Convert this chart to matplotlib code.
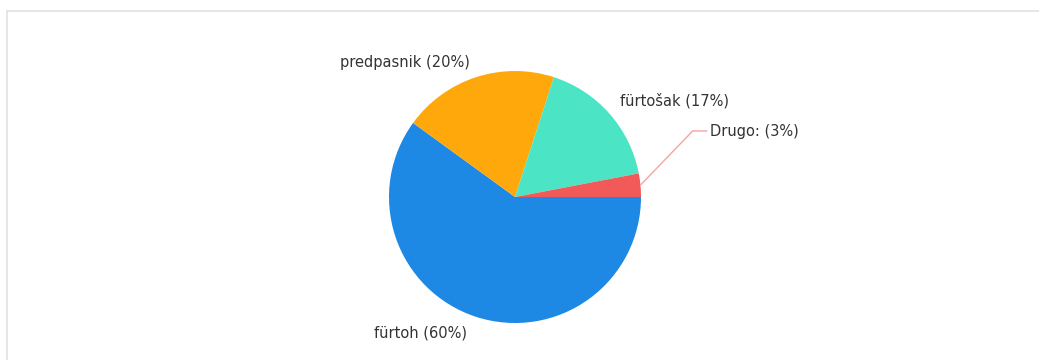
import numpy as np
import matplotlib
matplotlib.use('agg')
import matplotlib.pyplot as plt
from matplotlib.patches import Rectangle

labels = ['fürtoh', 'predpasnik', 'fürtošak', 'Drugo:']
shares = [60, 20, 17, 3]
colors = ['#1e88e5', '#ffa80c', '#4be5c5', '#f25a5a']

W, H, DPI = 1039, 360, 100
CX, CY, R = 515, 197, 126  # pie centre and radius in pixels

fig = plt.figure(figsize=(W / DPI, H / DPI), dpi=DPI)
ax = fig.add_axes([0, 0, 1, 1])

wedges, _ = ax.pie(shares, colors=colors, startangle=0, counterclock=False,
                   radius=1, center=(0, 0), wedgeprops={'linewidth': 0})
ax.set_xlim(-CX / R, (W - CX) / R)
ax.set_ylim(-(H - CY) / R, CY / R)
ax.set_aspect('auto')
ax.axis('off')

# panel border (only left and top edges fall inside the canvas)
fig.patches.append(Rectangle((7 / W, -0.1), 1.2, 1.1 - 11 / H,
                             transform=fig.transFigure, fill=False,
                             edgecolor='#e2e2e2', linewidth=1.2))

text_kw = dict(fontsize=10.5, color='#333333', va='center', family='DejaVu Sans')
label_spots = [(-0.38, -1.08, 'right'), (-0.36, 1.07, 'right'),
               (0.83, 0.76, 'left'), (1.55, 0.52, 'left')]
for lab, val, (x, y, ha) in zip(labels, shares, label_spots):
    ax.text(x, y, f'{lab} ({val}%)', ha=ha, **text_kw)

# leader line for the small slice
w = wedges[3]
mid = np.deg2rad((w.theta1 + w.theta2) / 2)
x0, y0 = np.cos(mid), np.sin(mid)
ax.plot([x0, 1.41, 1.525], [y0, 0.524, 0.524], color='#f5a3a3', lw=1,
        solid_capstyle='butt')

fig.savefig('out.png', dpi=DPI)
plt.close(fig)
